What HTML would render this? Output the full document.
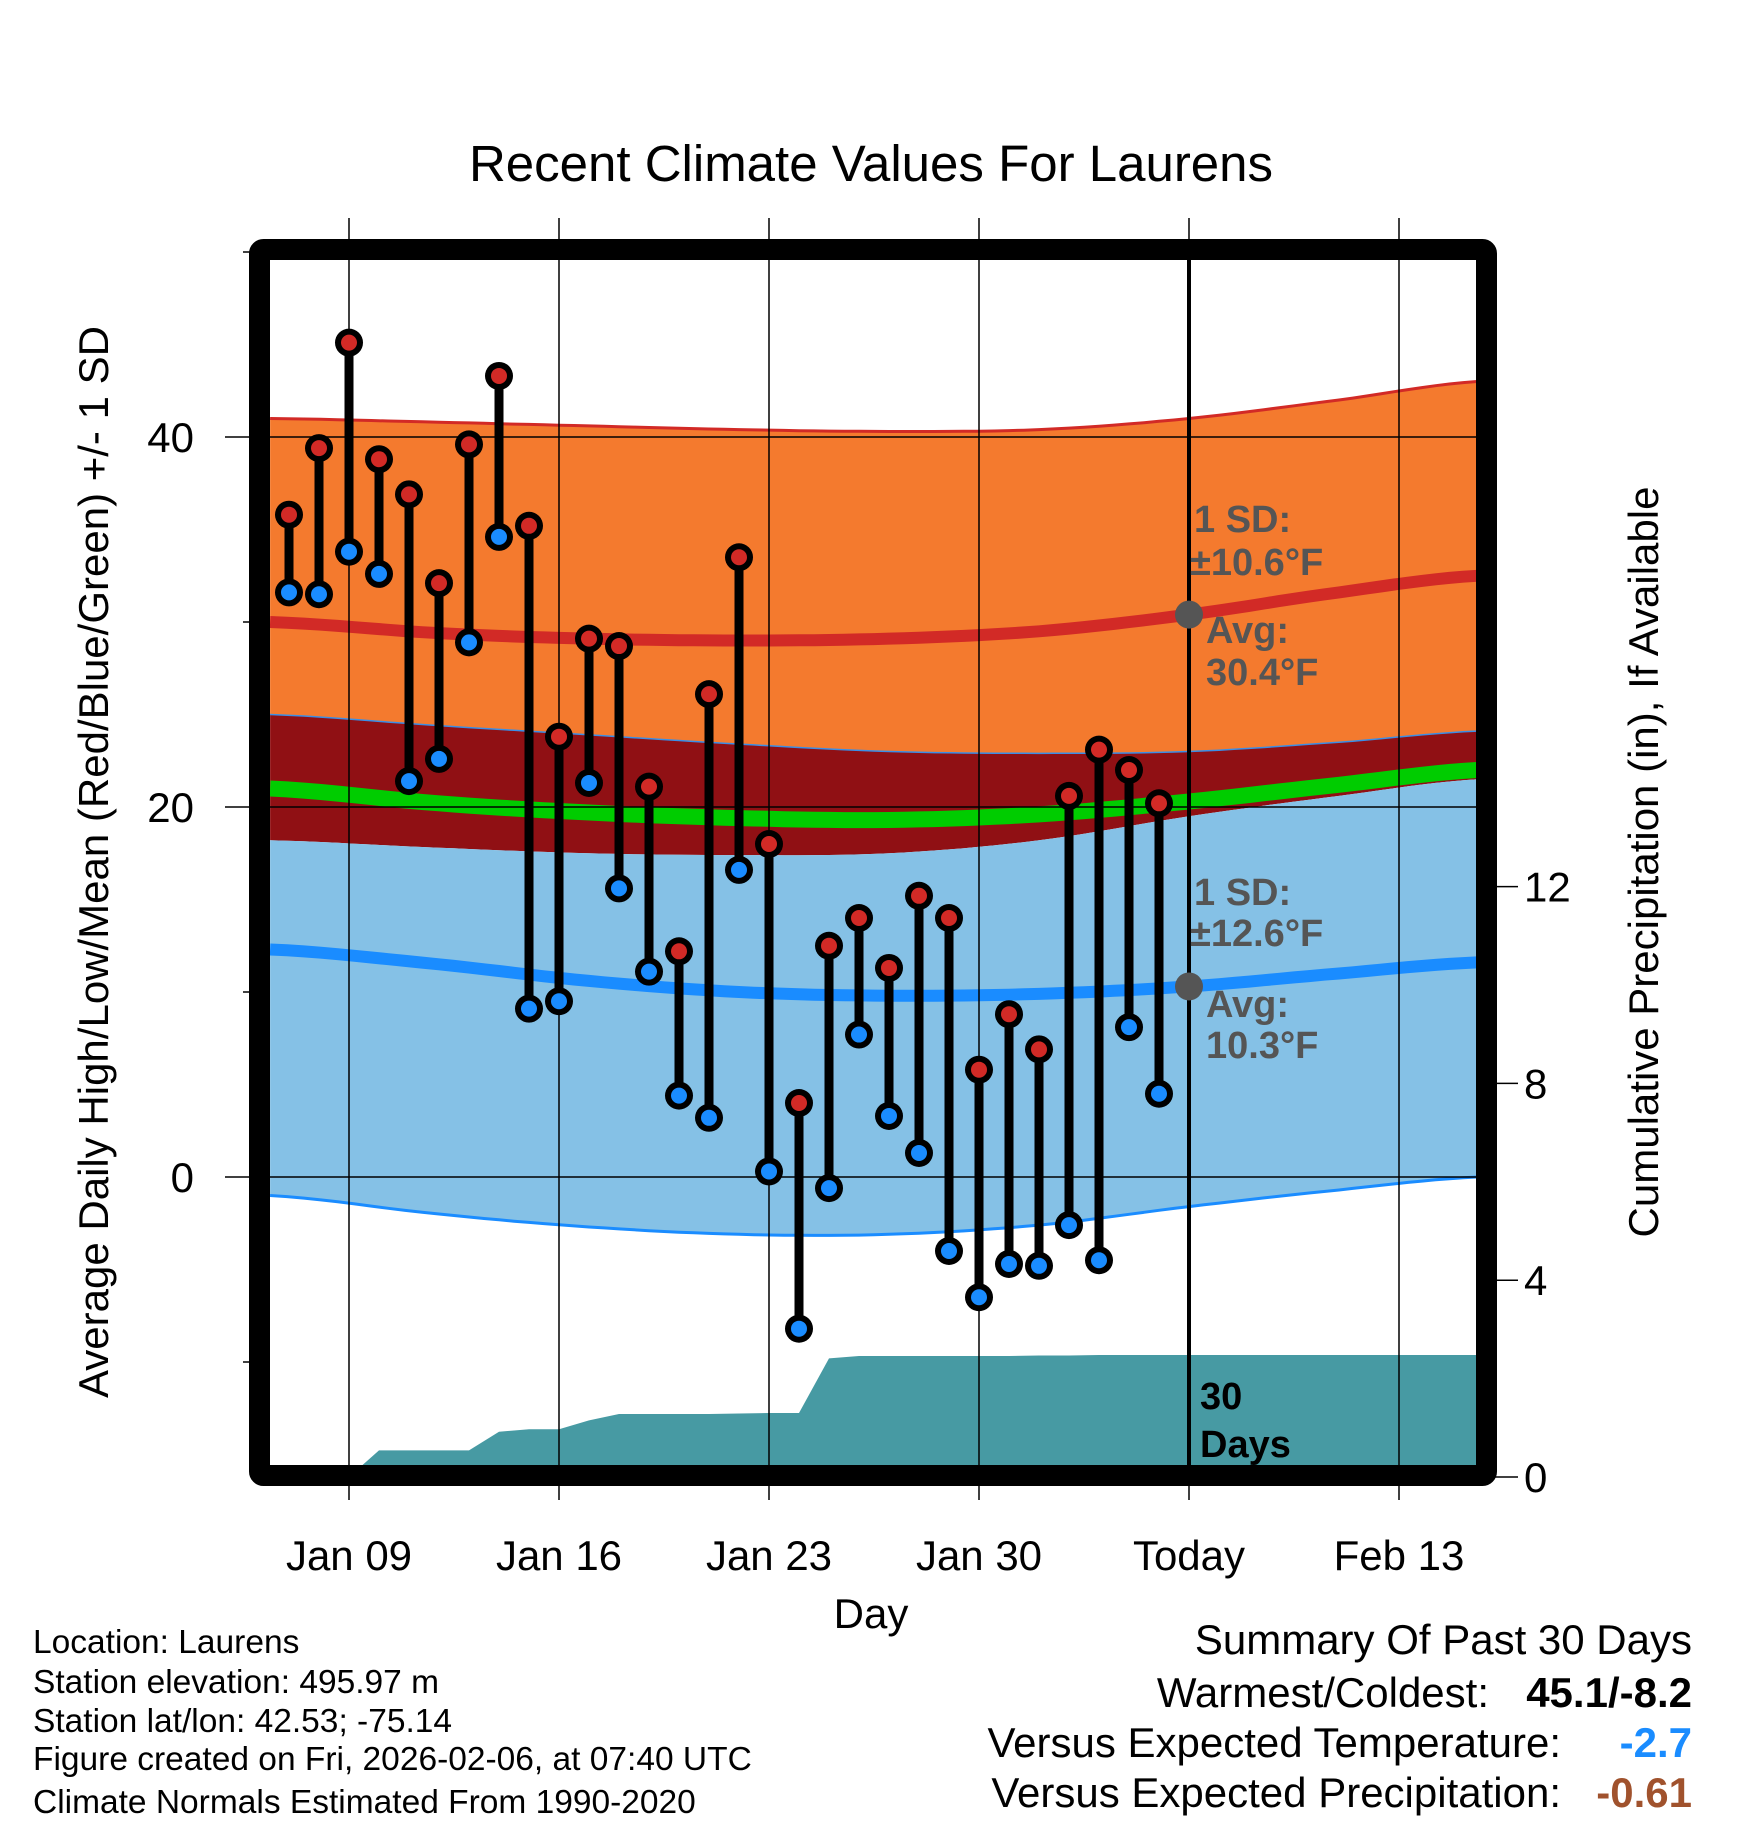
<!DOCTYPE html>
<html><head><meta charset="utf-8"><style>
body{margin:0;background:#fff}
svg{display:block;font-family:"Liberation Sans",sans-serif}
</style></head><body>
<svg id="chart" width="1748" height="1828" viewBox="0 0 1748 1828">
<text x="871" y="181" font-size="51" text-anchor="middle">Recent Climate Values For Laurens</text>
<g id="plot"></g>
</svg>
<script>
const days = ["Jan07","Jan08","Jan09","Jan10","Jan11","Jan12","Jan13","Jan14","Jan15","Jan16","Jan17","Jan18","Jan19","Jan20","Jan21","Jan22","Jan23","Jan24","Jan25","Jan26","Jan27","Jan28","Jan29","Jan30","Jan31","Feb01","Feb02","Feb03","Feb04","Feb05"];
const highs = [35.8,39.4,45.1,38.8,36.9,32.1,39.6,43.3,35.2,23.8,29.1,28.7,21.1,12.2,26.1,33.5,18.0,4.0,12.5,14.0,11.3,15.2,14.0,5.8,8.8,6.9,20.6,23.1,22.0,20.2];
const lows = [31.6,31.5,33.8,32.6,21.4,22.6,28.9,34.6,9.1,9.5,21.3,15.6,11.1,4.4,3.2,16.6,0.3,-8.2,-0.6,7.7,3.3,1.3,-4.0,-6.5,-4.7,-4.8,-2.6,-4.5,8.1,4.5];
const precip = [0,0,0,0.54,0.54,0.54,0.54,0.92,0.97,0.97,1.15,1.28,1.28,1.28,1.28,1.29,1.30,1.30,2.41,2.46,2.46,2.46,2.46,2.46,2.46,2.47,2.47,2.48,2.48,2.48,2.48];
const normDays = [-0.63,5,10,15,20,25,30,35,39.6];
const highUpper = [41.0,40.8,40.6,40.4,40.3,40.4,41.0,42.0,43.0];
const highAvg = [30.0,29.4,29.1,29.0,29.1,29.5,30.4,31.6,32.5];
const highLower = [25.0,24.4,23.9,23.4,23.0,22.9,23.0,23.5,24.1];
const meanLine = [21.0,20.2,19.7,19.4,19.3,19.6,20.3,21.2,22.0];
const lowUpper = [18.2,17.8,17.5,17.4,17.5,18.2,19.5,20.6,21.5];
const lowAvg = [12.3,11.5,10.6,10.0,9.8,9.9,10.3,11.0,11.6];
const lowLower = [-1.0,-2.0,-2.7,-3.1,-3.1,-2.6,-1.6,-0.7,0.0];
const leftTicks = [0,20,40];
const rightTicks = [0,4,8,12];
const xTickDays = [2,9,16,23,30,37];
const xTickLabels = ["Jan 09","Jan 16","Jan 23","Jan 30","Today","Feb 13"];

const X = d => 289 + 30*d;
const Y = v => 1177 - 18.5*v;
const P = p => 1477 - 49.2*p;
const NS="http://www.w3.org/2000/svg";
const g=document.getElementById('plot');
function mk(tag,attrs,parent){const e=document.createElementNS(NS,tag);for(const k in attrs)e.setAttribute(k,attrs[k]);(parent||g).appendChild(e);return e;}
function line(arr){
  const out=[];const n=arr.length;
  for(let i=0;i<n-1;i++){
    const p0=arr[Math.max(i-1,0)],p1=arr[i],p2=arr[i+1],p3=arr[Math.min(i+2,n-1)];
    const d1=normDays[i],d2=normDays[i+1];
    for(let s=0;s<10;s++){
      const t=s/10;
      const v=0.5*((2*p1)+(-p0+p2)*t+(2*p0-5*p1+4*p2-p3)*t*t+(-p0+3*p1-3*p2+p3)*t*t*t);
      out.push(X(d1+(d2-d1)*t).toFixed(1)+','+Y(v).toFixed(1));
    }
  }
  out.push(X(normDays[n-1]).toFixed(1)+','+Y(arr[n-1]).toFixed(1));
  return out;
}
function band(top,bot,fill,name){
  const pts=line(top).concat(line(bot).reverse());
  const e=mk('polygon',{points:pts.join(' '),fill:fill});
  
  
}
function pl(arr,stroke,w,name){
  const e=mk('polyline',{points:line(arr).join(' '),fill:'none',stroke:stroke,'stroke-width':w});
  
  
}
band(highUpper,highLower,'#f47a2e','high-sd-band');
band(highLower,lowUpper,'#901014','overlap-band');
band(lowUpper,lowLower,'#85c1e6','low-sd-band');
pl(meanLine,'#00cc00',16,'mean-line');
pl(highUpper,'#d22a26',3,'high-upper-line');
pl(highLower,'#3a8ee6',1.5,'high-lower-line');
pl(lowLower,'#1a8cff',3,'low-lower-line');
pl(highAvg,'#d22a26',12,'high-avg-line');
pl(lowAvg,'#1a8cff',12,'low-avg-line');
// precip
{
  const pts=[X(0)+','+P(0)];
  precip.forEach((p,i)=>pts.push(X(i)+','+P(p)));
  pts.push('1477,'+P(precip[precip.length-1]));
  pts.push('1477,'+P(0));
  const e=mk('polygon',{points:pts.join(' '),fill:'#479aa3'});
  
  
}
// grid
xTickDays.forEach((d,i)=>{
  const e=mk('line',{x1:X(d),x2:X(d),y1:218,y2:1500,stroke:'#000','stroke-width':1.5});
  
  
  const t=mk('text',{x:X(d),y:1570,'font-size':42,'text-anchor':'middle'});
  t.textContent=xTickLabels[i];
  
  
});
leftTicks.forEach(v=>{
  const e=mk('line',{x1:225,x2:1477,y1:Y(v),y2:Y(v),stroke:'#000','stroke-width':1.5});
  
  
  const t=mk('text',{x:194,y:Y(v)+15,'font-size':42,'text-anchor':'end'});
  t.textContent=v;
  
  
});
[-10,10,30,50].forEach(v=>{
  const e=mk('line',{x1:243,x2:260,y1:Y(v),y2:Y(v),stroke:'#000','stroke-width':1.5});
  
  
});
rightTicks.forEach(v=>{
  const y=P(v);
  const e=mk('line',{x1:1490,x2:1518,y1:y,y2:y,stroke:'#000','stroke-width':1.5});
  
  
  const t=mk('text',{x:1524,y:y+15,'font-size':42});
  t.textContent=v;
  
  
});
// today line
{
  const e=mk('line',{x1:X(30),x2:X(30),y1:255,y2:1472,stroke:'#000','stroke-width':4});
  
  
}
// stems & points
highs.forEach((h,i)=>{
  const s=mk('line',{x1:X(i),x2:X(i),y1:Y(h),y2:Y(lows[i]),stroke:'#000','stroke-width':9});
  
  
});
highs.forEach((h,i)=>{
  [[h,'#d22a26','high-point'],[lows[i],'#1a8cff','low-point']].forEach(([v,c,n])=>{
    const o=mk('circle',{cx:X(i),cy:Y(v),r:14,fill:'#000'});
    
    
    const c2=mk('circle',{cx:X(i),cy:Y(v),r:8,fill:c});
    
    
  });
});
// avg dots
[highAvg[6],lowAvg[6]].forEach(v=>{
  const e=mk('circle',{cx:X(30),cy:Y(v),r:14,fill:'#555'});
  
  
});
// frame
{
  const e=mk('rect',{x:259.5,y:249.5,width:1227,height:1226,fill:'none',stroke:'#000','stroke-width':21,rx:4});
  
  
}
</script>
<svg style="position:absolute;left:0;top:0" width="1748" height="1828">
<g font-family="Liberation Sans, sans-serif" font-weight="bold" font-size="38" fill="#555">
<text x="1194" y="532">1 SD:</text>
<text x="1190" y="575">±10.6°F</text>
<text x="1206" y="643">Avg:</text>
<text x="1206" y="685">30.4°F</text>
<text x="1194" y="905">1 SD:</text>
<text x="1190" y="946">±12.6°F</text>
<text x="1206" y="1017">Avg:</text>
<text x="1206" y="1058">10.3°F</text>
<text x="1200" y="1409" fill="#000">30</text>
<text x="1200" y="1457" fill="#000">Days</text>
</g>
<g font-family="Liberation Sans, sans-serif">
<text x="871" y="1628" font-size="42" text-anchor="middle">Day</text>
<text transform="translate(108,862) rotate(-90)" font-size="42" text-anchor="middle">Average Daily High/Low/Mean (Red/Blue/Green) +/- 1 SD</text>
<text transform="translate(1658,862) rotate(-90)" font-size="42" text-anchor="middle">Cumulative Precipitation (in), If Available</text>
<g font-size="33.5">
<text x="33" y="1653">Location: Laurens</text>
<text x="33" y="1693">Station elevation: 495.97 m</text>
<text x="33" y="1732">Station lat/lon: 42.53; -75.14</text>
<text x="33" y="1770">Figure created on Fri, 2026-02-06, at 07:40 UTC</text>
<text x="33" y="1813">Climate Normals Estimated From 1990-2020</text>
</g>
<g font-size="42">
<text x="1692" y="1654" text-anchor="end">Summary Of Past 30 Days</text>
<text x="1489" y="1707" text-anchor="end">Warmest/Coldest:</text>
<text x="1692" y="1707" text-anchor="end" font-weight="bold">45.1/-8.2</text>
<text x="1561" y="1757" text-anchor="end">Versus Expected Temperature:</text>
<text x="1692" y="1757" text-anchor="end" font-weight="bold" fill="#1a8cff">-2.7</text>
<text x="1561" y="1807" text-anchor="end">Versus Expected Precipitation:</text>
<text x="1692" y="1807" text-anchor="end" font-weight="bold" fill="#a0522d">-0.61</text>
</g>
</g>
</svg>
</body></html>
